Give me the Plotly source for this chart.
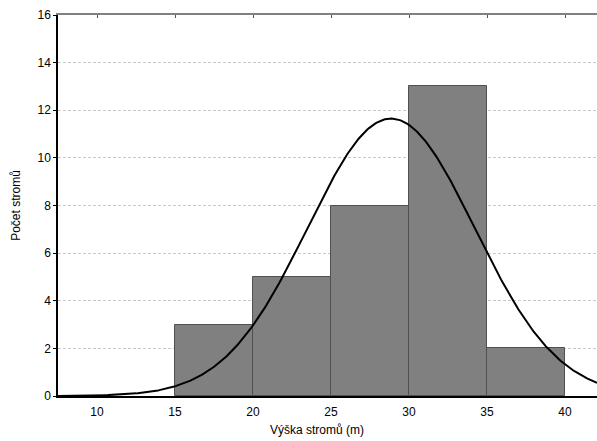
import numpy as np
import plotly.graph_objects as go

# Data
bin_edges = [15, 20, 25, 30, 35, 40]
counts = [3, 5, 8, 13, 2]
fit_mean = 28.85
fit_sd = 5.35
fit_peak = 11.65
x_ticks = [10, 15, 20, 25, 30, 35, 40]
y_ticks = [0, 2, 4, 6, 8, 10, 12, 14, 16]

centers = [(a + b) / 2 for a, b in zip(bin_edges[:-1], bin_edges[1:])]
widths = [b - a for a, b in zip(bin_edges[:-1], bin_edges[1:])]

xr = [7.5, 42.05]
xc = np.linspace(xr[0], xr[1], 400)
yc = fit_peak * np.exp(-0.5 * ((xc - fit_mean) / fit_sd) ** 2)

fig = go.Figure()
fig.add_trace(go.Bar(x=centers, y=counts, width=widths,
                     marker=dict(color="#808080", line=dict(color="#505050", width=1)),
                     showlegend=False))
fig.add_trace(go.Scatter(x=xc, y=yc, mode="lines", line=dict(color="black", width=2),
                         showlegend=False, cliponaxis=True))
fig.add_trace(go.Scatter(x=[xr[0]], y=[0], xaxis="x2", mode="markers",
                         marker=dict(opacity=0), showlegend=False, hoverinfo="skip"))

font = "Liberation Sans, Arial, sans-serif"
fig.update_layout(
    width=597, height=441,
    margin=dict(l=58, r=0, t=15, b=45),
    paper_bgcolor="white", plot_bgcolor="white",
    font=dict(family=font, size=12, color="black"),
    bargap=0,
    xaxis=dict(range=xr, tickvals=x_ticks, showgrid=False, zeroline=False,
               showline=True, linecolor="black", linewidth=1.5, ticks="outside",
               ticklen=4, tickcolor="rgba(0,0,0,0)",
               tickfont=dict(size=12)),
    xaxis2=dict(range=xr, overlaying="x", side="top", tickvals=x_ticks,
                showticklabels=False, ticks="inside", ticklen=3, tickcolor="#555",
                showline=True, linecolor="#808080", linewidth=2, showgrid=False,
                zeroline=False),
    yaxis=dict(range=[0, 16], tickvals=y_ticks, showgrid=True, gridcolor="#c8c8c8",
               griddash="3px,2px", gridwidth=1, zeroline=False,
               showline=True, linecolor="black", linewidth=1.5,
               ticks="outside", ticklen=3, tickcolor="black",
               tickfont=dict(size=12),
               title=dict(text="Počet stromů", font=dict(size=12), standoff=14)),
    annotations=[dict(text="Výška stromů (m)", xref="paper", yref="paper",
                      x=0.481, y=0, yshift=-34, xanchor="center", yanchor="middle",
                      showarrow=False, font=dict(size=12))],
)
fig.write_html("out.html")
